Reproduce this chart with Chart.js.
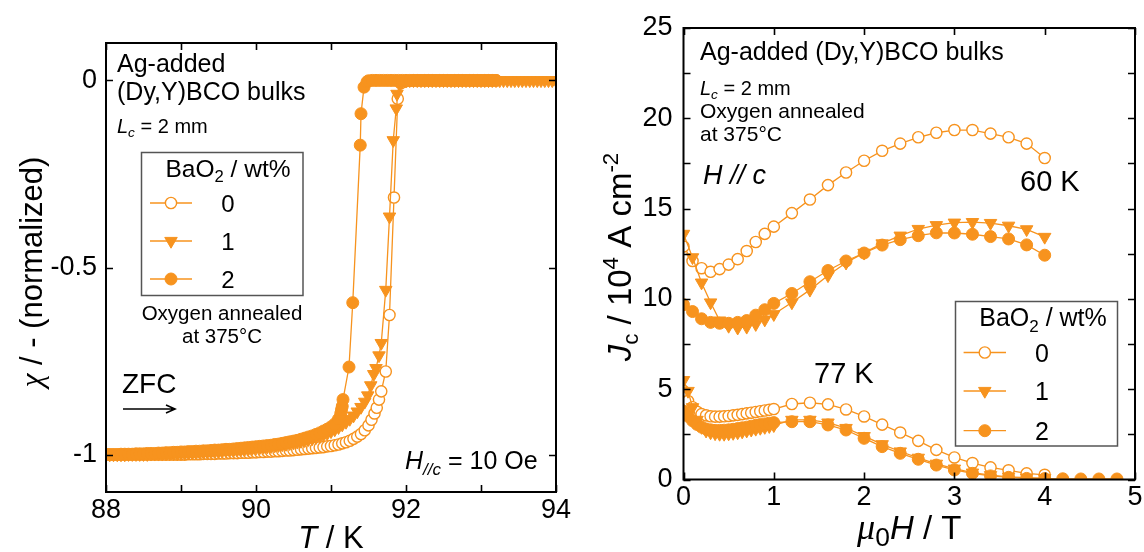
<!DOCTYPE html>
<html>
<head>
<meta charset="utf-8">
<script src="https://cdn.jsdelivr.net/npm/chart.js@4.4.1/dist/chart.umd.min.js"></script>
<style>
  html, body { margin: 0; padding: 0; background: #fff; }
  body { width: 1144px; height: 552px; position: relative; overflow: hidden; }
  canvas { position: absolute; top: 0; }
  #chiPanel { left: 0; }
  #jcPanel { left: 590px; }
</style>
</head>
<body>
<canvas id="chiPanel" width="590" height="552"></canvas>
<canvas id="jcPanel" width="554" height="552"></canvas>
<script>
// ---------------- Left panel: ZFC susceptibility vs temperature ----------------
// common low-temperature sweep (K)
const sweepLow = [
  88.00,88.05,88.10,88.15,88.20,88.25,88.30,88.35,88.40,88.45,88.50,88.55,88.60,88.65,88.70,88.75,88.80,88.85,88.90,88.95,
  89.00,89.05,89.10,89.15,89.20,89.25,89.30,89.35,89.40,89.45,89.50,89.55,89.60,89.65,89.70,89.75,89.80,89.85,89.90,89.95,
  90.00,90.05,90.10,90.15,90.20,90.25,90.30,90.35,90.40,90.45,90.50,90.55,90.60,90.65,90.70,90.75,90.80,90.85,90.90,90.95
];

// BaO2 0 wt%
const tempsOpenHigh = [
  91.00,91.05,91.10,91.15,91.20,91.25,91.30,91.35,
  91.40,91.45,91.50,91.54,91.58,91.61,91.64,91.67,91.73,91.78,91.84,91.89,91.93,
  92.00,92.05,92.10,92.15,92.20,92.25,92.30,92.35,92.40,92.45,92.50,92.55,92.60,92.65,92.70,92.75,92.80,92.85,92.90,92.95,93.00,93.05,93.10,93.15,93.20
];
const chiOpen = [
  -1,-1,-1,-1,-1,-1,-1,-1,-1,-1,-1,-1,-1,-1,-1,-1,-1,-1,-1,-1,
  -1,-1,-0.999,-0.999,-0.999,-0.999,-0.998,-0.998,-0.998,-0.998,-0.997,-0.997,-0.997,-0.996,-0.996,-0.996,-0.995,-0.995,-0.995,-0.994,
  -0.994,-0.993,-0.993,-0.992,-0.992,-0.991,-0.991,-0.99,-0.989,-0.989,-0.988,-0.987,-0.986,-0.985,-0.984,-0.983,-0.982,-0.981,-0.98,-0.978,
  -0.977,-0.975,-0.973,-0.97,-0.967,-0.963,-0.958,-0.952,
  -0.945,-0.935,-0.922,-0.907,-0.89,-0.875,-0.853,-0.831,-0.778,-0.627,-0.313,-0.049,-0.008,
  -0.002,-0.001,0,0,0,0,0,0,0,0,0,0,0,0,0,0,0,0,0,0,0,0,0,0,0
];

// BaO2 1 wt%
const tempsTriHigh = [
  91.00,91.05,91.10,91.15,91.20,91.25,91.30,91.35,91.40,91.45,
  91.49,91.53,91.57,91.60,91.64,91.67,91.73,91.78,91.83,91.87,91.88,91.92,
  91.95,92.00,92.05,92.10,92.15,92.20,92.25,92.30,92.35,92.40,92.45,92.50,92.55,92.60,92.65,92.70,92.75,92.80,92.85,92.90,92.95,
  93.00,93.05,93.10,93.15,93.20,93.25,93.30,93.35,93.40,93.45,93.50,93.55,93.60,93.65,93.70,93.75,93.80,93.85,93.90,93.95,94.00
];
const chiTri = [
  -1,-1,-1,-1,-1,-1,-0.999,-0.999,-0.999,-0.999,-0.999,-0.999,-0.998,-0.998,-0.998,-0.998,-0.997,-0.997,-0.997,-0.997,
  -0.996,-0.996,-0.995,-0.995,-0.994,-0.994,-0.993,-0.993,-0.992,-0.991,-0.991,-0.99,-0.989,-0.988,-0.988,-0.987,-0.986,-0.985,-0.984,-0.983,
  -0.982,-0.981,-0.98,-0.979,-0.978,-0.976,-0.975,-0.973,-0.972,-0.97,-0.968,-0.966,-0.964,-0.962,-0.959,-0.957,-0.954,-0.951,-0.947,-0.943,
  -0.938,-0.933,-0.927,-0.92,-0.913,-0.905,-0.896,-0.885,-0.873,-0.859,
  -0.842,-0.815,-0.785,-0.769,-0.735,-0.702,-0.56,-0.364,-0.16,-0.075,-0.036,-0.01,
  -0.003,-0.001,0,0,0,0,0,0,0,0,0,0,0,0,0,0,0,0,0,0,0,
  0,0,0,0,0,0,0,0,0,0,0,0,0,0,0,0,0,0,0,0,0
];

// BaO2 2 wt%
const tempsFilledHigh = [
  91.00,91.05,91.10,
  91.13,91.14,91.15,91.16,91.24,91.29,91.39,91.40,91.44,91.48,
  91.50,91.55,91.60,91.65,91.70,91.75,91.80,91.85,91.90,91.95,92.00,92.05,92.10,92.15,92.20,92.25,92.30,92.35,
  92.40,92.45,92.50,92.55,92.60,92.65,92.70,92.75,92.80,92.85,92.90,92.95,93.00,93.05,93.10,93.15,93.20
];
const chiFilled = [
  -1,-1,-1,-1,-0.999,-0.999,-0.999,-0.999,-0.998,-0.998,-0.998,-0.997,-0.997,-0.997,-0.996,-0.996,-0.995,-0.995,-0.994,-0.994,
  -0.993,-0.993,-0.992,-0.992,-0.991,-0.991,-0.99,-0.99,-0.989,-0.988,-0.988,-0.987,-0.986,-0.986,-0.985,-0.984,-0.983,-0.982,-0.981,-0.98,
  -0.979,-0.978,-0.977,-0.976,-0.975,-0.973,-0.972,-0.97,-0.968,-0.966,-0.964,-0.962,-0.959,-0.956,-0.953,-0.95,-0.946,-0.942,-0.937,-0.932,
  -0.926,-0.918,-0.905,
  -0.89,-0.88,-0.871,-0.853,-0.766,-0.594,-0.173,-0.089,-0.018,-0.004,
  -0.001,0,0,0,0,0,0,0,0,0,0,0,0,0,0,0,0,0,
  0,0,0,0,0,0,0,0,0,0,0,0,0,0,0,0,0
];

const tempTicks = [88, 89, 90, 91, 92, 93, 94];
const chiTicks = [-1, -0.5, 0];

// ---------------- Right panel: Jc vs applied field ----------------
const field60 = [0,0.1,0.2,0.3,0.4,0.5,0.6,0.7,0.8,0.9,1.0,1.2,1.4,1.6,1.8,2.0,2.2,2.4,2.6,2.8,3.0,3.2,3.4,3.6,3.8,4.0];
const jc60Open   = [12.9,12.1,11.7,11.5,11.65,11.9,12.2,12.65,13.15,13.6,14.0,14.75,15.5,16.3,17.0,17.65,18.2,18.6,18.95,19.2,19.35,19.35,19.15,18.95,18.6,17.8];
const jc60Tri    = [13.6,12.3,10.9,9.8,8.8,8.5,8.4,8.45,8.6,8.85,9.15,9.8,10.5,11.3,12.0,12.55,13.07,13.5,13.87,14.08,14.22,14.25,14.2,14.05,13.85,13.43];
const jc60Filled = [9.68,9.3,8.9,8.7,8.65,8.65,8.7,8.8,9.1,9.4,9.75,10.3,10.95,11.57,12.1,12.54,12.98,13.28,13.5,13.66,13.65,13.58,13.45,13.32,12.99,12.42];

const field77Low  = [0,0.05,0.1,0.15,0.2,0.25,0.3,0.35,0.4,0.45,0.5,0.55,0.6,0.65,0.7,0.75,0.8,0.85,0.9,0.95,1.0];
const field77High = [1.2,1.4,1.6,1.8,2.0,2.2,2.4,2.6,2.8,3.0,3.2,3.4,3.6,3.8,4.0,4.2,4.4,4.6,4.8];
const jc77Open   = [4.9,4.35,4.0,3.75,3.62,3.55,3.5,3.48,3.48,3.5,3.52,3.55,3.58,3.62,3.66,3.7,3.74,3.78,3.82,3.86,3.9,
                    4.18,4.25,4.16,3.88,3.49,3.04,2.6,2.14,1.64,1.22,0.91,0.67,0.51,0.34,0.26];
const jc77Tri    = [5.5,4.9,4.0,3.3,2.9,2.7,2.6,2.55,2.52,2.52,2.54,2.57,2.6,2.65,2.7,2.75,2.8,2.85,2.9,2.95,3.0,
                    3.3,3.3,3.15,2.85,2.4,1.95,1.55,1.2,0.87,0.6,0.38,0.24,0.15,0.1,0.07];
const jc77Filled = [3.75,3.5,3.25,3.05,2.9,2.8,2.75,2.72,2.72,2.73,2.75,2.78,2.82,2.86,2.9,2.95,3.0,3.04,3.08,3.12,3.15,
                    3.2,3.2,3.02,2.74,2.28,1.82,1.45,1.12,0.8,0.53,0.34,0.2,0.12,0.06,0.05,0.04,0.03,0.03,0.03];

const fieldTicks = [0, 1, 2, 3, 4, 5];
const jcTicks = [0, 2.5, 5, 7.5, 10, 12.5, 15, 17.5, 20, 22.5, 25];

const legendTitle = [{t: 'BaO'}, {t: '2', sub: true}, {t: ' / wt%'}];
const legendLabels = ['0', '1', '2'];

// ---------------- styling helpers ----------------
const ORANGE = '#F7931E';
const SANS = '"Liberation Sans", Arial, Helvetica, sans-serif';
const SERIF = '"Liberation Serif", "DejaVu Serif", serif';

const styleOpen   = {pointStyle: 'circle',   rotation: 0,   radius: 5.6, fill: '#ffffff', borderWidth: 1.4};
const styleTri    = {pointStyle: 'triangle', rotation: 180, radius: 7.2, fill: ORANGE,    borderWidth: 1};
const styleFilled = {pointStyle: 'circle',   rotation: 0,   radius: 6.0, fill: ORANGE,    borderWidth: 1};
const seriesStyles = [styleOpen, styleTri, styleFilled];

function zip(xs, ys) { return xs.map((x, i) => ({x: x, y: ys[i]})); }

function dataset(label, points, st, order) {
  return {
    label: label, data: points, showLine: true, order: order,
    borderColor: ORANGE, borderWidth: 1.3, tension: 0,
    pointStyle: st.pointStyle, pointRotation: st.rotation, pointRadius: st.radius,
    pointBackgroundColor: st.fill, pointBorderColor: ORANGE, pointBorderWidth: st.borderWidth,
    pointHoverRadius: st.radius
  };
}

function fontStr(size, italic, family) {
  return (italic ? 'italic ' : '') + size + 'px ' + (family || SANS);
}

// mixed-style text (italics, subscripts, superscripts)
function partSize(p, size) { return p.scale ? size * p.scale : ((p.sub || p.sup) ? size * 0.68 : size); }
function richWidth(ctx, parts, size) {
  let w = 0;
  for (const p of parts) {
    ctx.font = fontStr(partSize(p, size), p.it, p.fam);
    w += ctx.measureText(p.t).width;
  }
  return w;
}
function drawRich(ctx, parts, x, y, size, align) {
  const w = richWidth(ctx, parts, size);
  let cx = align === 'center' ? x - w / 2 : (align === 'right' ? x - w : x);
  ctx.textBaseline = 'alphabetic';
  ctx.textAlign = 'left';
  for (const p of parts) {
    const s = partSize(p, size);
    const dy = p.sub ? size * 0.22 : (p.sup ? -size * 0.4 : 0);
    ctx.font = fontStr(s, p.it, p.fam);
    ctx.fillText(p.t, cx, y + dy);
    cx += ctx.measureText(p.t).width;
  }
}
function drawRichRotated(ctx, parts, cx, cy, size) {
  ctx.save();
  ctx.translate(cx, cy);
  ctx.rotate(-Math.PI / 2);
  drawRich(ctx, parts, 0, size * 0.36, size, 'center');
  ctx.restore();
}

// frame with inward ticks on all four sides
function drawFrame(chart, len) {
  const ctx = chart.ctx, a = chart.chartArea;
  const xs = chart.scales.x, ys = chart.scales.y;
  ctx.save();
  ctx.strokeStyle = '#000';
  ctx.lineWidth = 2;
  ctx.strokeRect(a.left, a.top, a.right - a.left, a.bottom - a.top);
  ctx.lineWidth = 1.6;
  ctx.beginPath();
  for (const t of xs.ticks) {
    const px = Math.round(xs.getPixelForValue(t.value)) + 0.5;
    ctx.moveTo(px, a.bottom); ctx.lineTo(px, a.bottom - len);
    ctx.moveTo(px, a.top); ctx.lineTo(px, a.top + len);
  }
  for (const t of ys.ticks) {
    const py = Math.round(ys.getPixelForValue(t.value)) + 0.5;
    ctx.moveTo(a.left, py); ctx.lineTo(a.left + len, py);
    ctx.moveTo(a.right, py); ctx.lineTo(a.right - len, py);
  }
  ctx.stroke();
  ctx.restore();
}

// boxed legend built from the chart's own dataset styles
function drawLegend(ctx, box) {
  ctx.save();
  ctx.fillStyle = '#fff';
  ctx.fillRect(box.x, box.y, box.w, box.h);
  ctx.strokeStyle = '#555';
  ctx.lineWidth = 1.5;
  ctx.strokeRect(box.x, box.y, box.w, box.h);
  ctx.fillStyle = '#000';
  drawRich(ctx, legendTitle, box.titleX, box.titleY, box.titleSize, 'center');
  legendLabels.forEach((lab, i) => {
    const st = seriesStyles[i];
    const ry = box.rows[i];
    ctx.strokeStyle = ORANGE;
    ctx.lineWidth = 1.3;
    ctx.beginPath();
    ctx.moveTo(box.lineX0, ry); ctx.lineTo(box.lineX1, ry);
    ctx.stroke();
    ctx.fillStyle = st.fill;
    ctx.strokeStyle = ORANGE;
    ctx.lineWidth = st.borderWidth;
    Chart.helpers.drawPoint(ctx, {pointStyle: st.pointStyle, rotation: st.rotation, radius: st.radius, borderWidth: st.borderWidth}, box.markerX, ry);
    ctx.fillStyle = '#000';
    drawRich(ctx, [{t: lab}], box.numX, ry + box.numSize * 0.36, box.numSize, 'center');
  });
  ctx.restore();
}

function fixWidth(w) {
  return function (scale) {
    scale.width = w;
    scale.paddingTop = 0; scale.paddingBottom = 0; scale.paddingLeft = 0; scale.paddingRight = 0;
  };
}
function fixHeight(h) {
  return function (scale) {
    scale.height = h;
    scale.paddingTop = 0; scale.paddingBottom = 0; scale.paddingLeft = 0; scale.paddingRight = 0;
  };
}
function useTicks(values) {
  return function (scale) { scale.ticks = values.map(v => ({value: v})); };
}

const tickFont = {family: SANS, size: 27};

// ---------------- left chart ----------------
const decorLeft = {
  id: 'decorLeft',
  afterDraw(chart) {
    const ctx = chart.ctx;
    const a = chart.chartArea;
    drawFrame(chart, 7);
    ctx.save();
    ctx.fillStyle = '#000';
    drawRich(ctx, [{t: 'Ag-added'}], 117, 72, 25, 'left');
    drawRich(ctx, [{t: '(Dy,Y)BCO bulks'}], 117, 100, 25, 'left');
    drawRich(ctx, [{t: 'L', it: true}, {t: 'c', it: true, sub: true}, {t: ' = 2 mm'}], 117, 133, 20, 'left');
    drawLegend(ctx, {
      x: 141.5, y: 152.5, w: 161.5, h: 143,
      titleX: 228, titleY: 177, titleSize: 24.5,
      rows: [203, 241, 279], lineX0: 150, lineX1: 192, markerX: 171,
      numX: 228, numSize: 24
    });
    ctx.fillStyle = '#000';
    drawRich(ctx, [{t: 'Oxygen annealed'}], 222, 320, 20.5, 'center');
    drawRich(ctx, [{t: 'at 375°C'}], 222, 343, 20.5, 'center');
    drawRich(ctx, [{t: 'ZFC'}], 122, 393, 28, 'left');
    // heating-direction arrow
    ctx.strokeStyle = '#000';
    ctx.lineWidth = 1.6;
    ctx.beginPath();
    ctx.moveTo(123, 409); ctx.lineTo(175, 409);
    ctx.moveTo(166, 405); ctx.lineTo(175, 409); ctx.lineTo(166, 413);
    ctx.stroke();
    drawRich(ctx, [{t: 'H', it: true}, {t: '//c', it: true, sub: true}, {t: ' = 10 Oe'}], 405, 469, 25, 'left');
    // axis titles
    drawRich(ctx, [{t: 'T', it: true}, {t: ' / K'}], (a.left + a.right) / 2, 548, 31, 'center');
    drawRichRotated(ctx, [{t: 'χ', it: true, fam: SERIF}, {t: ' / - (normalized)'}], 31, 272, 31);
    ctx.restore();
  }
};

new Chart(document.getElementById('chiPanel'), {
  type: 'scatter',
  data: {
    datasets: [
      dataset('0', zip([...sweepLow, ...tempsOpenHigh], chiOpen), styleOpen, 3),
      dataset('1', zip([...sweepLow, ...tempsTriHigh], chiTri), styleTri, 2),
      dataset('2', zip([...sweepLow, ...tempsFilledHigh], chiFilled), styleFilled, 1)
    ]
  },
  options: {
    responsive: false, animation: false, events: [],
    layout: {padding: {top: 43, right: 34, bottom: 0, left: 0}},
    plugins: {legend: {display: false}, tooltip: {enabled: false}},
    scales: {
      x: {
        type: 'linear', min: 88, max: 94, offset: false,
        afterBuildTicks: useTicks(tempTicks), afterFit: fixHeight(60),
        grid: {display: false, drawTicks: false}, border: {display: false},
        ticks: {font: tickFont, color: '#000', padding: 2, autoSkip: false, maxRotation: 0,
                callback: v => (v % 2 === 0 ? String(v) : '')}
      },
      y: {
        type: 'linear', min: -1.1, max: 0.1, offset: false,
        afterBuildTicks: useTicks(chiTicks), afterFit: fixWidth(106),
        grid: {display: false, drawTicks: false}, border: {display: false},
        ticks: {font: tickFont, color: '#000', padding: 9, autoSkip: false, callback: v => String(v)}
      }
    }
  },
  plugins: [decorLeft]
});

// ---------------- right chart ----------------
const decorRight = {
  id: 'decorRight',
  afterDraw(chart) {
    const ctx = chart.ctx;
    const a = chart.chartArea;
    drawFrame(chart, 7);
    ctx.save();
    ctx.fillStyle = '#000';
    drawRich(ctx, [{t: 'Ag-added (Dy,Y)BCO bulks'}], 110, 60, 25, 'left');
    drawRich(ctx, [{t: 'L', it: true}, {t: 'c', it: true, sub: true}, {t: ' = 2 mm'}], 110, 94.5, 20, 'left');
    drawRich(ctx, [{t: 'Oxygen annealed'}], 110, 118, 21, 'left');
    drawRich(ctx, [{t: 'at 375°C'}], 110, 141, 21, 'left');
    drawRich(ctx, [{t: 'H // c', it: true}], 113, 184, 27, 'left');
    drawRich(ctx, [{t: '60 K'}], 430, 191, 29, 'left');
    drawRich(ctx, [{t: '77 K'}], 224, 382.5, 29, 'left');
    drawLegend(ctx, {
      x: 365.5, y: 301.5, w: 162, h: 144.5,
      titleX: 453, titleY: 326, titleSize: 25,
      rows: [352.5, 391, 430.7], lineX0: 373.6, lineX1: 416, markerX: 394.8,
      numX: 452, numSize: 25
    });
    ctx.fillStyle = '#000';
    drawRich(ctx, [{t: 'μ', it: true, fam: SERIF, scale: 1.1}, {t: '0', sub: true, scale: 0.8}, {t: 'H', it: true}, {t: ' / T'}], (a.left + a.right) / 2, 539, 33, 'center');
    drawRichRotated(ctx, [{t: 'J', it: true}, {t: 'c', sub: true}, {t: ' / 10'}, {t: '4', sup: true}, {t: ' A cm'}, {t: '-2', sup: true}], 29, 257, 33);
    ctx.restore();
  }
};

new Chart(document.getElementById('jcPanel'), {
  type: 'scatter',
  data: {
    datasets: [
      dataset('0', zip(field60, jc60Open), styleOpen, 3),
      dataset('1', zip(field60, jc60Tri), styleTri, 2),
      dataset('2', zip(field60, jc60Filled), styleFilled, 1),
      dataset('0', zip([...field77Low, ...field77High], jc77Open), styleOpen, 3),
      dataset('1', zip([...field77Low, ...field77High], jc77Tri), styleTri, 2),
      dataset('2', zip([...field77Low, ...field77High], jc77Filled), styleFilled, 1)
    ]
  },
  options: {
    responsive: false, animation: false, events: [],
    layout: {padding: {top: 28, right: 9, bottom: 0, left: 0}},
    plugins: {legend: {display: false}, tooltip: {enabled: false}},
    scales: {
      x: {
        type: 'linear', min: 0, max: 5, offset: false,
        afterBuildTicks: useTicks(fieldTicks), afterFit: fixHeight(72.5),
        grid: {display: false, drawTicks: false}, border: {display: false},
        ticks: {font: tickFont, color: '#000', padding: 2, autoSkip: false, maxRotation: 0,
                callback: v => String(v)}
      },
      y: {
        type: 'linear', min: 0, max: 25, offset: false,
        afterBuildTicks: useTicks(jcTicks), afterFit: fixWidth(93.5),
        grid: {display: false, drawTicks: false}, border: {display: false},
        ticks: {font: tickFont, color: '#000', padding: 11, autoSkip: false,
                callback: v => (v % 5 === 0 ? String(v) : '')}
      }
    }
  },
  plugins: [decorRight]
});
</script>
</body>
</html>
